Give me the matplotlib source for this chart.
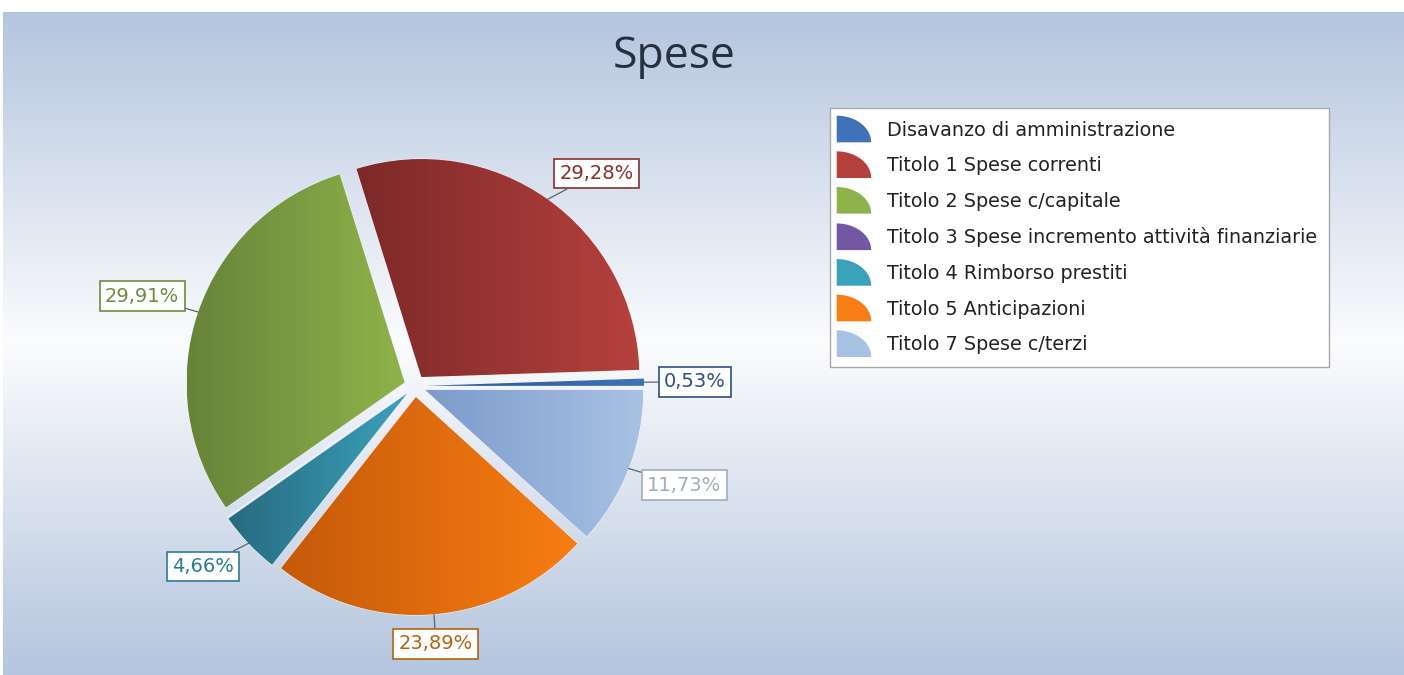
import numpy as np
import matplotlib
matplotlib.use('Agg')
from matplotlib import pyplot as plt
from matplotlib.colors import LinearSegmentedColormap, to_rgb
from matplotlib.patches import Wedge, Polygon
from matplotlib.legend_handler import HandlerBase

# data
categorie = ['Disavanzo di amministrazione', 'Titolo 1 Spese correnti',
             'Titolo 2 Spese c/capitale',
             'Titolo 3 Spese incremento attività finanziarie',
             'Titolo 4 Rimborso prestiti', 'Titolo 5 Anticipazioni',
             'Titolo 7 Spese c/terzi']
percentuali = [0.53, 29.28, 29.91, 0.0, 4.66, 23.89, 11.73]
titolo = 'Spese'

# colori (scuro -> chiaro) per il gradiente delle fette
grad = [('#2b5894', '#3f72b8'), ('#7d2929', '#b5413d'), ('#67833a', '#8fb34a'),
        ('#4e3676', '#7257a2'), ('#286a80', '#3aa2ba'), ('#c55a08', '#f87d12'),
        ('#7c9bcb', '#a8c2e3')]
col_etichette = ['#2b4f8c', '#8a2e2e', '#6e8b3a', '#4e3676', '#2b7c92', '#b5630f', '#a0adc0']

W, H = 1404, 675
fig = plt.figure(figsize=(W / 100, H / 100), dpi=100)

# sfondo sfumato
bg = fig.add_axes([0, 0, 1, 1])
bg.axis('off')
bgmap = LinearSegmentedColormap.from_list('bg', [(0, '#b4c5de'), (0.5, '#fbfcfd'),
                                                 (1, '#b4c5de')])
bg.imshow(np.linspace(0, 1, 256)[:, None], cmap=bgmap, aspect='auto',
          extent=(3, W, 0, H - 12))
bg.set_xlim(0, W)
bg.set_ylim(0, H)

ax = fig.add_axes([0, 0, 1, 1])
ax.patch.set_visible(False)
R = 218
cx, cy = 415, H - 386
wedges, _ = ax.pie(percentuali, center=(cx, cy), radius=R, explode=[11] * len(percentuali),
                   startangle=0, counterclock=True, colors=[g[1] for g in grad],
                   wedgeprops=dict(linewidth=0.8))

for w, (c0, c1) in zip(wedges, grad):
    w.set_edgecolor('#f2f4f8')
    if w.theta2 - w.theta1 <= 0:
        continue
    bb = w.get_path().get_extents()
    cm = LinearSegmentedColormap.from_list('', [c0, c1])
    im = ax.imshow(np.linspace(0, 1, 64)[None, :], cmap=cm, aspect='auto',
                   extent=(bb.x0, bb.x1, bb.y0, bb.y1), zorder=w.get_zorder() + 0.1)
    im.set_clip_path(w)

# etichette percentuali
lead = 20
for w, v, c in zip(wedges, percentuali, col_etichette):
    if v <= 0:
        continue
    a = np.deg2rad((w.theta1 + w.theta2) / 2)
    ca, sa = np.cos(a), np.sin(a)
    x0, y0 = w.center
    ha = 'left' if ca > 0.3 else ('right' if ca < -0.3 else 'center')
    va = 'bottom' if sa > 0.3 else ('top' if sa < -0.3 else 'center')
    ax.annotate(f'{v:.2f}%'.replace('.', ','),
                xy=(x0 + R * ca, y0 + R * sa),
                xytext=(x0 + (R + lead) * ca, y0 + (R + lead) * sa),
                ha=ha, va=va, fontsize=14, color=c, zorder=10,
                bbox=dict(boxstyle='square,pad=0.28', fc='white', ec=c, lw=1.2),
                arrowprops=dict(arrowstyle='-', color='#5a6472', lw=0.9,
                                shrinkA=0, shrinkB=0))

ax.set_xlim(0, W)
ax.set_ylim(0, H)
ax.set_aspect('auto')
ax.axis('off')


class QuartoHandler(HandlerBase):
    def create_artists(self, legend, orig_handle, xdescent, ydescent,
                       width, height, fontsize, trans):
        t = np.linspace(0, np.pi / 2, 30)
        h = fontsize * 1.39
        yc = -ydescent + height / 2
        x0, y0 = -xdescent - 0.3 * fontsize, yc - h / 2
        pts = [(x0, y0)] + [(x0 + width * np.cos(k), y0 + h * np.sin(k)) for k in t]
        fc = orig_handle.get_facecolor()
        p = Polygon(pts, closed=True, facecolor=fc, edgecolor='none', transform=trans)
        return [p]


leg = fig.legend(wedges, categorie, loc='upper left',
                 bbox_to_anchor=(830 / W, 1 - 108 / H), borderaxespad=0,
                 handler_map={Wedge: QuartoHandler()},
                 prop=dict(family='DejaVu Sans', size=13.8),
                 handlelength=1.8, handleheight=1.0, handletextpad=0.5,
                 labelspacing=0.86, borderpad=0.65, fancybox=False,
                 framealpha=1, edgecolor='#a8a8a8', facecolor='white')
leg.get_frame().set_linewidth(1.0)
for t in leg.get_texts():
    t.set_color('#222222')
# colore medio per le icone della legenda
for w, (c0, c1) in zip(wedges, grad):
    w.set_facecolor(tuple((np.array(to_rgb(c0)) + np.array(to_rgb(c1))) / 2))

fig.text(674 / W, 1 - 68 / H, titolo, ha='center', va='baseline',
         fontsize=32, family='Open Sans', color='#27303f')

fig.savefig('out.png', dpi=100)
